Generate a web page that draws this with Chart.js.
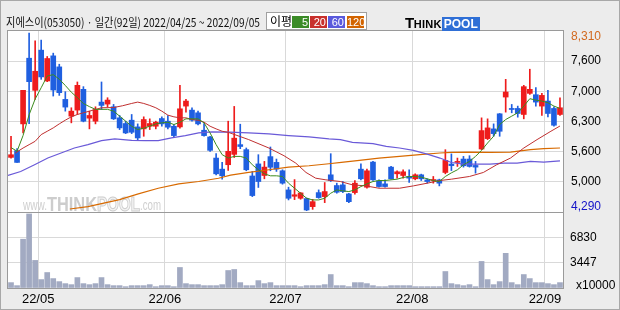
<!DOCTYPE html>
<html>
<head>
<meta charset="utf-8">
<script src="https://cdn.jsdelivr.net/npm/chart.js@4.4.0/dist/chart.umd.min.js"></script>
<style>
  body { margin: 0; background: #ececec; }
  #wrap { position: relative; width: 620px; height: 310px; overflow: hidden; }
  #c { position: absolute; left: 0; top: 0; }
  #title { position: absolute; left: 6px; top: 15px; font: 12px "Noto Sans CJK KR", sans-serif; line-height: 14px; white-space: nowrap; transform-origin: 0 0; color: #111; }
  #legend { position: absolute; left: 266px; top: 12px; width: 99px; height: 16px; border: 1px solid #a0a0a0; background: #fff; font: 11px "Liberation Sans", sans-serif; }
  #legend .lbl { position: absolute; left: 3px; top: 1px; font: 12px "Noto Sans CJK KR", sans-serif; line-height: 14px; }
  #legend .box { position: absolute; top: 3px; height: 12px; color: #fff; text-align: right; line-height: 12px; font-size: 11px; padding-right: 1px; box-sizing: border-box; }
  #logo { position: absolute; left: 405px; top: 14px; height: 15px; font: bold 13px "Liberation Sans", sans-serif; white-space: nowrap; }
  #logo .t { font-size: 15px; letter-spacing: -0.5px; }
  #logo .k { font-size: 11px; letter-spacing: 0.3px; }
  #logo .p { display: inline-block; background: #2f6fd6; color: #fff; padding: 0 2px; font-size: 12px; line-height: 14px; }
</style>
</head>
<body>
<div id="wrap">
  <canvas id="c" width="620" height="310"></canvas>
  <div id="title">지에스이(053050) · 일간(92일) 2022/04/25 ~ 2022/09/05</div>
  <div id="legend">
    <span class="lbl">이평</span>
    <span class="box" style="left:25px;width:17px;background:#3c8c28">5</span>
    <span class="box" style="left:43px;width:17px;background:#c8302c">20</span>
    <span class="box" style="left:61px;width:17px;background:#5a5adc">60</span>
    <span class="box" style="left:80px;width:17px;background:#d26400">120</span>
  </div>
  <div id="logo"><span class="t">T</span><span class="k">HINK</span><span class="p">POOL</span></div>
</div>
<script>
// trading days 2022/04/25 ~ 2022/09/05
const dates = ['04/25','04/26','04/27','04/28','04/29',
  '05/02','05/03','05/04','05/06','05/09','05/10','05/11','05/12','05/13','05/16','05/17','05/18','05/19','05/20','05/23','05/24','05/25','05/26','05/27','05/30','05/31',
  '06/02','06/03','06/07','06/08','06/09','06/10','06/13','06/14','06/15','06/16','06/17','06/20','06/21','06/22','06/23','06/24','06/27','06/28','06/29','06/30',
  '07/01','07/04','07/05','07/06','07/07','07/08','07/11','07/12','07/13','07/14','07/15','07/18','07/19','07/20','07/21','07/22','07/25','07/26','07/27','07/28','07/29',
  '08/01','08/02','08/03','08/04','08/05','08/08','08/09','08/10','08/11','08/12','08/16','08/17','08/18','08/19','08/22','08/23','08/24','08/25','08/26','08/29','08/30','08/31',
  '09/01','09/02','09/05'];

const opens = [5503,5652,6247,7706,6992,7885,7200,7758,7513,6791, 6419,6553,7014,6374,6307,6731,6687,6627,6381,6255,
  6329,6180,6136,6195,6195,6366,6307,6195,6180,6642, 6553,6493,6106,5957,5488,5242,5340,5570,5786,5675,
  5090,5358,5101,5520,5392,5206,4781,4640,4595,4588, 4409,4721,4632,5116,4878,4893,4692,4721,5242,4840,
  5399,4982,4915,5287,5138,5101,5079,5027,5116,5004, 4989,5004,5168,5354,5391,5466,5466,5324,5689,5920,
  6136,6471,6843,6590,6590,6456,6925,6895,6642,6754, 6590,6456];
const highs = [5972,5696,6992,8265,8093,8108,7744,7818,7572,6962, 6605,7178,7074,6530,6627,7178,6828,6679,6434,6307,
  6456,6247,6404,6359,6307,6404,6434,6232,7103,6791, 6605,6530,6255,5972,5585,5391,6307,6635,6240,5712,
  5190,5563,5414,5734,5466,5228,4841,5010,4722,4603, 4572,4781,4945,5585,4930,4967,4707,4989,5362,5242,
  5414,5004,5004,5302,5205,5228,5228,5138,5131,5027, 5079,5019,5674,5580,5488,5525,5540,5414,6381,6359,
  6247,6478,7237,6679,6642,7103,7461,7051,6925,6992, 6627,6828];
const lows = [5488,5391,6046,6250,6791,7237,7185,6865,6880,6530, 6270,6456,6292,6136,6247,6567,6627,6344,6121,6031,
  6031,5875,5972,6121,6136,6195,6136,5957,6151,6508, 6307,6225,5972,5637,5116,5019,5213,5500,5697,5206,
  4632,4835,5027,5206,5191,4908,4558,4565,4573,4320, 4349,4595,4498,4967,4707,4721,4498,4684,5004,4818,
  4989,4840,4840,5019,5042,5042,4945,5004,4989,4930, 4930,4870,5138,5210,5302,5287,5287,5153,5674,5898,
  5972,5972,6508,6493,6396,6359,6902,6642,6433,6404, 6195,6433];
const closes = [5562,5391,6992,7185,7416,7290,7699,6999,6940,6620, 6530,7103,6307,6434,6567,6657,6776,6359,6158,6046,
  6061,5935,6344,6255,6284,6247,6173,5987,6582,6754, 6329,6247,5987,5659,5138,5094,5637,5930,5745,5228,
  4655,4967,5287,5284,5243,4930,4595,4673,4714,4334, 4520,4610,4744,4989,4729,4744,4520,4930,5027,5205,
  5004,4855,4855,5027,5183,5183,5042,5116,5027,4967, 5004,4930,5436,5320,5414,5317,5302,5287,6098,6158,
  6031,6083,6955,6567,6478,7074,7014,6731,6880,6478, 6217,6605];
// volume, x10000 shares
const volumes = [731,320,6627,10054,3747,1143,2102,1280,868,594, 457,1417,594,457,594,1417,457,320,320,183,
  320,320,320,457,183,320,320,183,2788,594, 457,457,320,320,320,457,2376,2514,731,320,
  320,1005,594,731,320,320,320,320,183,320, 320,320,457,1828,320,320,183,731,731,594,
  320,183,183,320,320,320,320,183,183,183, 183,183,2239,594,457,320,457,183,3610,1143,
  457,868,4707,731,457,1828,1280,731,731,594, 457,731];

// moving averages
const ma5 = [5720,5640,5990,6450,6800,7050,7310,7340,7240,7100, 6950,6830,6700,6630,6570,6570,6570,6530,6420,6307,
  6195,6121,6151,6195,6247,6270,6284,6232,6284,6359, 6359,6359,6270,6046,5786,5563,5488,5525,5525,5488,
  5339,5228,5138,5094,5094,5079,4930,4818,4707,4595, 4558,4558,4595,4707,4781,4759,4744,4781,4855,4915,
  4967,4989,4989,5004,5019,5056,5079,5079,5064,5027, 4989,4967,5079,5160,5228,5339,5414,5525,5659,5823,
  5972,6232,6344,6419,6493,6642,6806,6776,6754,6716, 6642,6590];
const ma20 = [[0.7,5600],[2,5711],[3,5786],[4,5860],[5,6009],[6,6083],[7,6158],[8,6247],[9,6329],[10,6404],[11,6456],
  [12,6493],[13,6530],[14,6567],[15,6605],[17,6610],[18.5,6650],[20,6701],[21,6731],[22,6701],[23,6657],[24,6605],
  [25,6530],[26,6441],[27,6404],[28,6381],[29,6381],[30,6344],[31,6329],[32,6285],[33,6195],[34,6136],[35,6083],
  [36,6060],[39.4,5898],[42.75,5711],[45.25,5540],[47.2,5376],[48.9,5168],[50.5,5041],[52.2,5004],[54.6,4967],
  [56.6,4893],[58.8,4870],[61,4818],[64.4,4818],[66.7,4870],[69,4930],[71.1,4989],[73,5019],[76,5079],[78.3,5168],
  [80.5,5339],[82.8,5488],[85,5711],[87.2,5898],[89.5,6084],[91,6200]];
const ma60 = [[-0.5,5101],[1.6,5190],[3.9,5339],[6.1,5488],[8.3,5600],[10.5,5711],[12.75,5786],[15,5875],[17.2,5915],
  [20,5880],[22.2,5875],[24.4,5875],[26.6,5935],[28.9,5987],[31.1,6046],[33.3,6069],[36.2,6065],[39.4,6046],
  [42.75,6024],[46,5987],[49.4,5957],[52.7,5912],[54.6,5898],[56.6,5838],[60,5808],[62.2,5749],[64.4,5711],
  [66.7,5659],[69,5577],[71.1,5488],[73,5390],[75,5354],[79.4,5354],[81.7,5376],[83.9,5376],[86.1,5414],[88.3,5399],[91,5425]];
const ma120 = [[9.75,4357],[12.75,4409],[18,4565],[21.1,4692],[24.4,4818],[27.8,4915],[31.1,4967],[34.4,5040],[36.4,5110],
  [39.4,5168],[42.75,5228],[46,5287],[49.4,5317],[52.7,5362],[54.75,5391],[57.75,5436],[61,5488],[64.4,5525],
  [67.75,5563],[71.1,5600],[73,5614],[76,5622],[79.4,5614],[82.8,5622],[86.1,5674],[88.3,5696],[91,5711]];

const monthTickLabels = ['22/05', '22/06', '22/07', '22/08', '22/09'];
const priceTicks = [4290, 4960, 5630, 6300, 6970, 7640, 8310];
const priceTickLabels = ['4,290', '5,000', '5,600', '6,300', '7,000', '7,600', '8,310'];
const volTicks = [3447, 6830];
const volMax = 10320;

const RED = '#ee1c1c', BLUE = '#1f5fe0';
const monthIdx = monthTickLabels.map(l => dates.findIndex(d => d.startsWith(l.slice(3) + '/')));
const candleColor = closes.map((c, i) => c >= opens[i] ? RED : BLUE);
const pairs = arr => arr.map(p => ({ x: p[0], y: p[1] }));

// fit the title to the width it has in the picture
const title = document.getElementById('title');
title.style.transform = 'scaleX(' + (254 / title.offsetWidth) + ')';

function fitText(ctx, text, x, y, w, font, color, stroke) {
  ctx.save();
  ctx.font = font;
  const m = ctx.measureText(text).width;
  ctx.translate(x, y);
  ctx.scale(w / m, 1);
  if (stroke) {
    ctx.fillStyle = '#f4f4f4';
    ctx.fillText(text, 0, 0);
    ctx.strokeStyle = color;
    ctx.lineWidth = 1;
    ctx.strokeText(text, 0, 0);
  } else {
    ctx.fillStyle = color;
    ctx.fillText(text, 0, 0);
  }
  ctx.restore();
}

const frame = {
  id: 'frame',
  beforeDraw(chart) {
    const { ctx, chartArea: a } = chart;
    ctx.save();
    ctx.fillStyle = '#ececec';
    ctx.fillRect(0, 0, chart.width, chart.height);
    ctx.fillStyle = '#fff';
    ctx.fillRect(a.left, a.top, a.right - a.left, a.bottom - a.top);
    ctx.restore();
  },
  beforeDatasetsDraw(chart) {
    const ctx = chart.ctx;
    ctx.save();
    ctx.textBaseline = 'alphabetic';
    fitText(ctx, 'www.', 23, 210, 24, '15px "Liberation Sans"', '#cfcfcf');
    fitText(ctx, 'THINK', 47, 211, 50, 'bold 21px "Liberation Sans"', '#cdcdcd');
    fitText(ctx, 'POOL', 97, 211, 43, 'bold 21px "Liberation Sans"', '#cdcdcd', true);
    fitText(ctx, '.com', 140, 210, 21, '15px "Liberation Sans"', '#cfcfcf');
    ctx.restore();
  },
  afterDraw(chart) {
    const { ctx, chartArea: a } = chart;
    const ys = chart.scales.y, yv = chart.scales.yv;
    ctx.save();
    ctx.strokeStyle = '#9a9a9a';
    ctx.lineWidth = 1;
    ctx.strokeRect(a.left - 0.5, a.top - 0.5, a.right - a.left + 1, a.bottom - a.top + 1);
    ctx.beginPath();
    ctx.moveTo(a.left, Math.round(yv.top) + 0.5);
    ctx.lineTo(a.right, Math.round(yv.top) + 0.5);
    ctx.stroke();
    ctx.strokeStyle = '#a8a8a8';
    ctx.strokeRect(0.5, 0.5, chart.width - 1, chart.height - 1);

    ctx.font = '12px "Liberation Sans"';
    ctx.textAlign = 'left';
    ctx.textBaseline = 'middle';
    const last = priceTicks.length - 1;
    priceTicks.forEach((v, k) => {
      let py = ys.getPixelForValue(v);
      if (k === 0) py -= 5;
      if (k === last) py += 6;
      ctx.fillStyle = k === 0 ? '#1414c8' : k === last ? '#d2691e' : '#000';
      ctx.fillText(priceTickLabels[k], 571, py);
    });
    ctx.fillStyle = '#000';
    volTicks.forEach(v => ctx.fillText(String(v), 570, yv.getPixelForValue(v)));
    ctx.fillText('x10000', 576, yv.bottom - 2);
    ctx.restore();
  }
};

const gridColor = ticks => c => (c.index === 0 || c.index === ticks.length - 1) ? 'rgba(0,0,0,0)' : '#d9d9d9';
const priceGridTicks = priceTicks;
const volGridTicks = [0].concat(volTicks, [volMax]);

new Chart(document.getElementById('c'), {
  type: 'bar',
  data: {
    datasets: [
      { type: 'line', data: ma5.map((v, i) => ({ x: i, y: v })), yAxisID: 'y', borderColor: '#3c8c1e', borderWidth: 1, pointRadius: 0, order: 0 },
      { type: 'line', data: pairs(ma20), yAxisID: 'y', borderColor: '#c03030', borderWidth: 1, pointRadius: 0, order: 0 },
      { type: 'line', data: pairs(ma60), yAxisID: 'y', borderColor: '#6a5ad8', borderWidth: 1.2, pointRadius: 0, order: 0 },
      { type: 'line', data: pairs(ma120), yAxisID: 'y', borderColor: '#d86a00', borderWidth: 1.2, pointRadius: 0, order: 0 },
      { data: opens.map((o, i) => ({ x: i, y: [o, closes[i]] })), yAxisID: 'y', backgroundColor: candleColor,
        barThickness: 5, grouped: false, minBarLength: 1, order: 1 },
      { data: highs.map((h, i) => ({ x: i, y: [lows[i], h] })), yAxisID: 'y', backgroundColor: candleColor,
        barThickness: 1, grouped: false, order: 2 },
      { data: volumes.map((v, i) => ({ x: i, y: v })), yAxisID: 'yv', backgroundColor: '#a2aac2',
        barThickness: 5, grouped: false, order: 3 }
    ]
  },
  options: {
    responsive: false,
    animation: false,
    devicePixelRatio: 1,
    layout: { padding: { left: 8, top: 31, right: 0, bottom: 0 } },
    plugins: { legend: { display: false }, tooltip: { enabled: false } },
    scales: {
      x: {
        type: 'linear', min: -0.5, max: 91.5, offset: false,
        grid: { offset: false, color: '#d9d9d9', drawTicks: false },
        border: { display: false },
        afterBuildTicks: s => { s.ticks = monthIdx.map(i => ({ value: i - 0.5 })); },
        afterFit: s => { s.height = 22; },
        ticks: { autoSkip: false, maxRotation: 0, padding: 4, color: '#000',
          font: { family: 'Liberation Sans', size: 13 },
          callback: (v, i) => monthTickLabels[i] }
      },
      y: {
        position: 'right', stack: 'panel', stackWeight: 181, min: 4290, max: 8310,
        afterBuildTicks: s => { s.ticks = priceGridTicks.map(v => ({ value: v })); },
        afterFit: s => { s.width = 57; },
        grid: { color: gridColor(priceGridTicks), drawTicks: false },
        border: { display: false },
        ticks: { display: false }
      },
      yv: {
        position: 'right', stack: 'panel', stackWeight: 76, min: 0, max: volMax,
        afterBuildTicks: s => { s.ticks = volGridTicks.map(v => ({ value: v })); },
        afterFit: s => { s.width = 57; },
        grid: { color: gridColor(volGridTicks), drawTicks: false },
        border: { display: false },
        ticks: { display: false }
      }
    }
  },
  plugins: [frame]
});
</script>
</body>
</html>
